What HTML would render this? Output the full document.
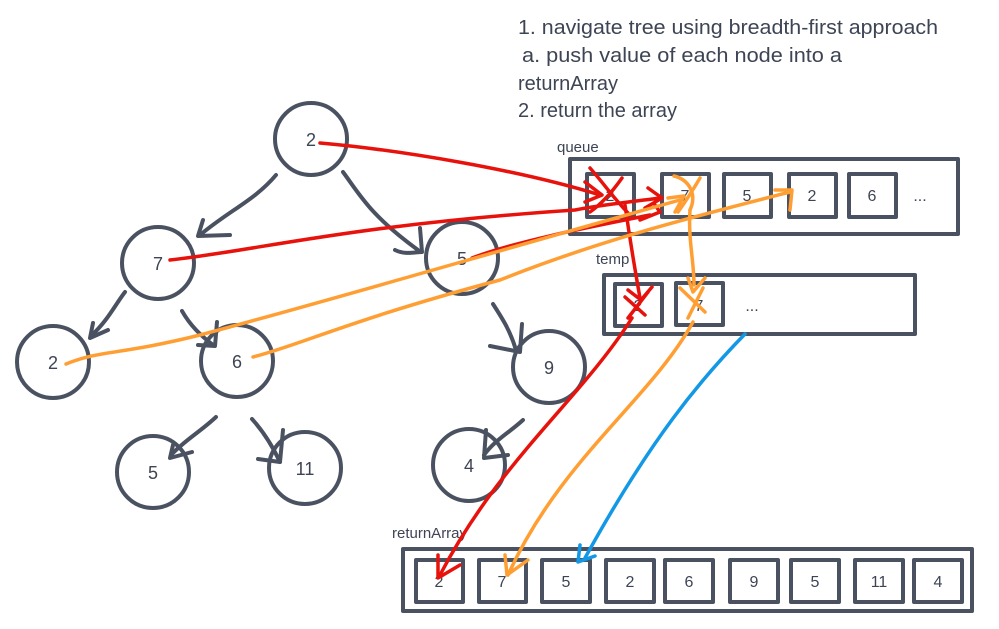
<!DOCTYPE html>
<html><head><meta charset="utf-8"><style>
html,body{margin:0;padding:0;background:#fff;}
svg{display:block;font-family:"Liberation Sans",sans-serif;}
</style></head><body>
<svg width="999" height="629" viewBox="0 0 999 629" xmlns="http://www.w3.org/2000/svg">
<g fill="#3d4454" font-size="20">
<text x="518" y="34" textLength="420" lengthAdjust="spacingAndGlyphs">1. navigate tree using breadth-first approach</text>
<text x="522" y="62" textLength="320" lengthAdjust="spacingAndGlyphs">a. push value of each node into a</text>
<text x="518" y="90">returnArray</text>
<text x="518" y="117">2. return the array</text>
<text x="557" y="152" font-size="15">queue</text>
<text x="596" y="264" font-size="15">temp</text>
<text x="392" y="538" font-size="15">returnArray</text>
</g>
<g fill="none" stroke="#4a5261" stroke-width="4" stroke-linecap="round" stroke-linejoin="round">
<!-- tree nodes -->
<circle cx="311" cy="139" r="36"/>
<circle cx="158" cy="263" r="36"/>
<circle cx="462" cy="258" r="36"/>
<circle cx="53" cy="362" r="36"/>
<circle cx="237" cy="361" r="36"/>
<circle cx="549" cy="367" r="36"/>
<circle cx="153" cy="472" r="36"/>
<circle cx="305" cy="468" r="36"/>
<circle cx="469" cy="465" r="36"/>
<!-- tree edges -->
<path d="M276 175 C255 200 230 210 200 235"/><path d="M203 220 L198 236 L230 235"/>
<path d="M343 172 C360 195 370 215 418 250"/><path d="M395 250 C405 255 415 252 422 252 L420 228"/>
<path d="M125 292 C115 305 108 320 92 335"/><path d="M93 323 L90 338 L108 330"/>
<path d="M182 311 C190 325 200 335 213 345"/><path d="M217 322 L215 346 L198 345"/>
<path d="M216 417 C200 432 185 440 171 455"/><path d="M173 445 L170 458 L192 452"/>
<path d="M252 419 C262 430 272 445 280 462"/><path d="M283 430 L280 462 L258 459"/>
<path d="M493 304 C502 318 510 330 516 350"/><path d="M522 324 L520 352 L490 346"/>
<path d="M523 420 C510 432 495 440 484 455"/><path d="M486 430 L484 458 L508 455"/>
<!-- queue -->
<rect x="570" y="159" width="388" height="75"/>
<rect x="587" y="174" width="47" height="43"/>
<rect x="662" y="174" width="47" height="43"/>
<rect x="724" y="174" width="47" height="43"/>
<rect x="789" y="174" width="47" height="43"/>
<rect x="849" y="174" width="47" height="43"/>
<!-- temp -->
<rect x="604" y="275" width="311" height="59"/>
<rect x="615" y="284" width="47" height="42"/>
<rect x="676" y="283" width="47" height="42"/>
<!-- returnArray -->
<rect x="403" y="549" width="569" height="62"/>
<rect x="416" y="560" width="47" height="42"/>
<rect x="479" y="560" width="47" height="42"/>
<rect x="542" y="560" width="48" height="42"/>
<rect x="606" y="560" width="48" height="42"/>
<rect x="665" y="560" width="48" height="42"/>
<rect x="730" y="560" width="48" height="42"/>
<rect x="791" y="560" width="48" height="42"/>
<rect x="855" y="560" width="48" height="42"/>
<rect x="914" y="560" width="48" height="42"/>
</g>
<g fill="#3d4454" font-size="18" text-anchor="middle">
<text x="311" y="146">2</text><text x="158" y="270">7</text><text x="462" y="265">5</text>
<text x="53" y="369">2</text><text x="237" y="368">6</text><text x="549" y="374">9</text>
<text x="153" y="479">5</text><text x="305" y="475">11</text><text x="469" y="472">4</text>
<g font-size="16">
<text x="610" y="201">2</text><text x="685" y="201">7</text><text x="747" y="201">5</text>
<text x="812" y="201">2</text><text x="872" y="201">6</text><text x="920" y="201">...</text>
<text x="638" y="311">2</text><text x="699" y="311">7</text><text x="752" y="311">...</text>
<text x="439" y="587">2</text><text x="502" y="587">7</text><text x="566" y="587">5</text>
<text x="630" y="587">2</text><text x="689" y="587">6</text><text x="754" y="587">9</text>
<text x="815" y="587">5</text><text x="879" y="587">11</text><text x="938" y="587">4</text>
</g></g>
<!-- red -->
<g fill="none" stroke="#e8120c" stroke-width="3.5" stroke-linecap="round" stroke-linejoin="round">
<path d="M320 143 C400 150 520 170 600 195"/><path d="M585 182 L602 195 L585 202"/>
<path d="M170 260 C260 250 350 225 575 210 C600 205 630 202 660 198"/><path d="M648 188 L662 198 L645 208"/>
<path d="M472 258 C520 240 600 225 650 215"/><path d="M655 205 L660 212 L640 220"/>
<path d="M590 168 C605 185 615 200 630 215"/><path d="M622 178 C610 195 600 205 590 212"/>
<path d="M625 205 C630 240 635 270 640 298"/><path d="M628 290 L641 300 L652 287"/>
<path d="M625 297 L645 315 M648 292 L628 318"/>
<path d="M632 318 C580 400 500 460 440 575"/><path d="M438 555 L438 578 L460 565"/>
</g>
<!-- orange -->
<g fill="none" stroke="#ff9f33" stroke-width="3.5" stroke-linecap="round" stroke-linejoin="round">
<path d="M66 364 C100 350 120 355 200 335 C350 295 500 250 680 200"/><path d="M668 198 L684 196 L675 212"/>
<path d="M253 357 C300 345 350 320 500 280 C600 240 700 215 790 192"/><path d="M775 190 L792 190 L790 210"/>
<path d="M674 176 C690 180 697 195 690 210 M700 178 C690 195 683 205 678 212"/>
<path d="M690 210 C688 240 694 260 694 285"/><path d="M688 278 L693 292 L705 278"/>
<path d="M680 288 L705 312 M703 288 L688 318"/>
<path d="M693 322 C650 400 560 460 508 575"/><path d="M505 555 L507 575 L528 560"/>
</g>
<!-- blue -->
<g fill="none" stroke="#1398e6" stroke-width="3.5" stroke-linecap="round" stroke-linejoin="round">
<path d="M745 334 C700 380 650 440 585 558"/><path d="M580 545 L578 562 L595 556"/>
</g>
</svg>
</body></html>
